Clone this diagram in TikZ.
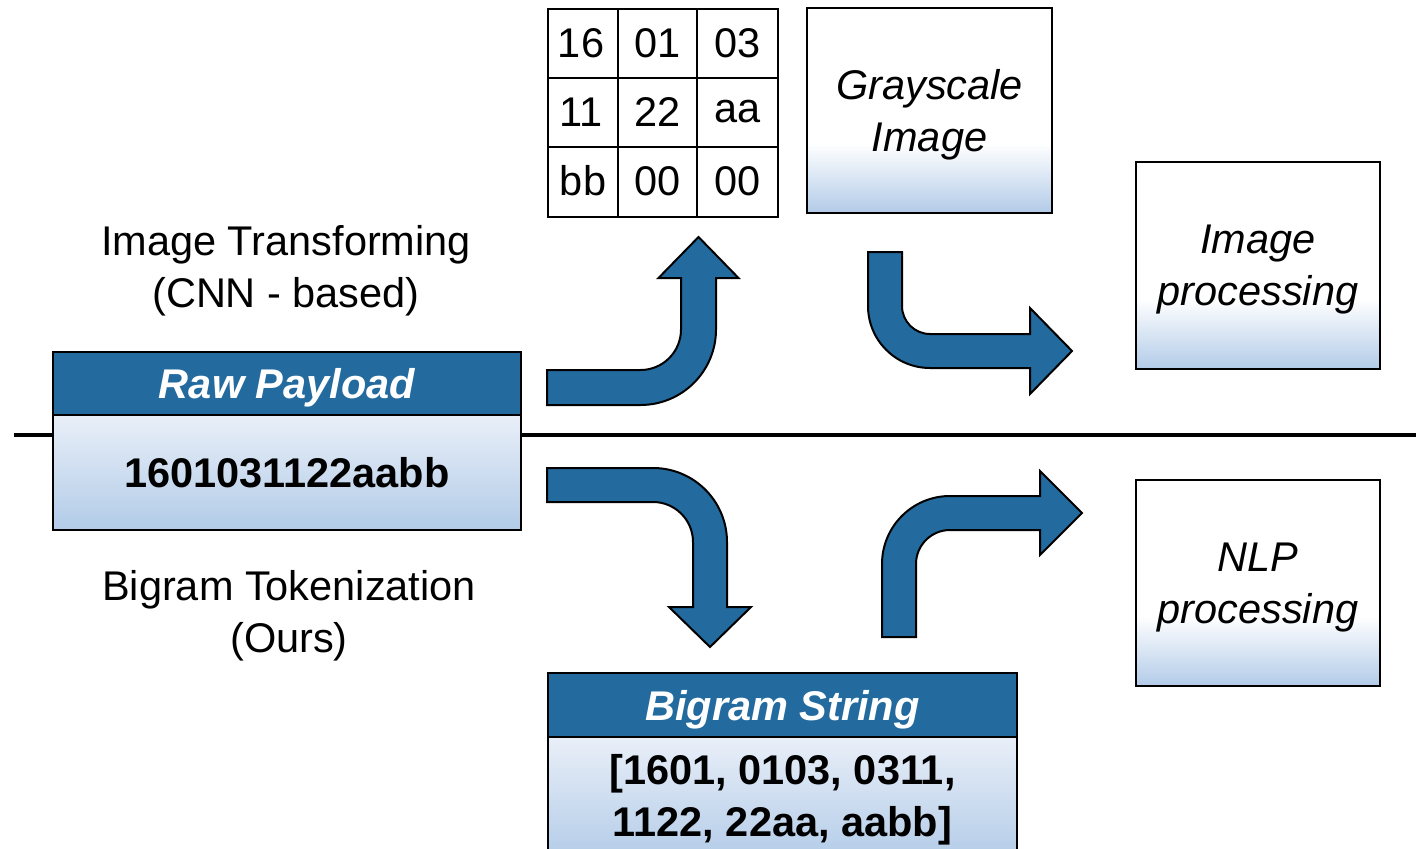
\documentclass[tikz,border=0pt]{standalone}
\usepackage{fontspec}
\setmainfont{Liberation Sans}

\definecolor{arrowblue}{HTML}{236B9F}
\definecolor{fadeblue}{HTML}{B2CBE8}
\definecolor{paleblue}{HTML}{E9EFF8}

% white box that fades to light blue over its lower third
\pgfdeclareverticalshading{lowfade}{100bp}{color(0bp)=(fadeblue); color(25bp)=(fadeblue); color(42bp)=(white); color(100bp)=(white)}

\tikzset{
  every node/.style={font=\fontsize{41.5}{52}\selectfont, inner sep=0pt},
  outline/.style={draw=black, line width=2.5pt},
  fadebox/.style={outline, rectangle, shade, shading=lowfade},
  boxtext/.style={align=center, font=\fontsize{41.5}{52}\selectfont\itshape},
  headbox/.style={outline, rectangle, fill=arrowblue, text=white, text height=36pt, text depth=6pt, font=\fontsize{41.5}{52}\selectfont\bfseries\itshape},
  bodybox/.style={outline, rectangle, top color=paleblue, bottom color=fadeblue},
  blockarrow/.style={fill=arrowblue, draw=black, line width=2pt, line join=miter},
  label/.style={align=center},
}

\begin{document}
\begin{tikzpicture}[x=1pt, y=-1pt]
\useasboundingbox (0,0) rectangle (1420,848);
\clip (0,0) rectangle (1420,848);

% dividing rule between the two pipelines
\draw[line width=4pt] (14,435) -- (1416,435);

% left: raw payload
\node[headbox, minimum width=468pt, minimum height=63pt] (rawhead) at (287,383.5) {Raw Payload};
\node[bodybox, minimum width=468pt, minimum height=115pt, font=\fontsize{41.5}{52}\selectfont\bfseries] (rawbody) at (287,472.5) {1601031122aabb};

\node[label] (cnnlabel) at (286,271) {Image Transforming\\(CNN - based)};
\node[label] (ourlabel) at (289,616) {Bigram Tokenization\\(Ours)};

% byte grid
\draw[outline] (548,9) rectangle (778,217);
\draw[outline] (618,9) -- (618,217) (697,9) -- (697,217) (548,78) -- (778,78) (548,147) -- (778,147);
\node (c11) at (581,43) {16};
\node (c12) at (657.5,43) {01};
\node (c13) at (737.5,43) {03};
\node (c21) at (581,112) {11};
\node (c22) at (657.5,112) {22};
\node (c23) at (737.5,112) {aa};
\node (c31) at (583,181) {bb};
\node (c32) at (657.5,181) {00};
\node (c33) at (737.5,181) {00};

% grayscale image and downstream processing
\node[fadebox, minimum width=245pt, minimum height=205pt] (gray) at (929.5,110.5) {};
\node[boxtext] (graytext) at ([yshift=-4pt]gray.center) {Grayscale\\Image};
\node[fadebox, minimum width=244pt, minimum height=207pt] (imgproc) at (1258,265.5) {};
\node[boxtext] (imgtext) at ([yshift=-4pt]imgproc.center) {Image\\processing};
\node[fadebox, minimum width=244pt, minimum height=206pt] (nlpproc) at (1258,583) {};
\node[boxtext] (nlptext) at ([yshift=-5pt]nlpproc.center) {NLP\\processing};

% bigram string
\node[headbox, minimum width=469pt, minimum height=64pt] (bighead) at (782.5,705) {Bigram String};
\node[bodybox, minimum width=469pt, minimum height=125pt] (bigbody) at (782.5,799.5) {};
\node[align=center, font=\fontsize{41.5}{52}\selectfont\bfseries] (bigtext) at (782.5,800) {[1601, 0103, 0311,\\1122, 22aa, aabb]};

% bent block arrows
\draw[blockarrow] (547,370) -- (640.5,370) arc[start angle=90, end angle=0, radius=40.5]
  -- (681,278) -- (658.5,278) -- (698.5,237) -- (738.5,278) -- (716,278) -- (716,329.5)
  arc[start angle=0, end angle=90, radius=75.5] -- (547,405) -- cycle;

\draw[blockarrow] (868,252) -- (902,252) -- (902,306) arc[start angle=180, end angle=90, radius=28]
  -- (1030,334) -- (1030,308) -- (1072,351) -- (1030,394) -- (1030,368) -- (930,368)
  arc[start angle=90, end angle=180, radius=62] -- cycle;

\draw[blockarrow] (547,468) -- (653,468) arc[start angle=270, end angle=360, radius=74]
  -- (727,607) -- (751,607) -- (710,647) -- (669,607) -- (693,607) -- (693,542)
  arc[start angle=360, end angle=270, radius=40] -- (547,502) -- cycle;

\draw[blockarrow] (882,637) -- (882,564) arc[start angle=180, end angle=270, radius=68]
  -- (1040,496) -- (1040,471) -- (1082,513) -- (1040,555) -- (1040,530) -- (950,530)
  arc[start angle=270, end angle=180, radius=34] -- (916,637) -- cycle;
\end{tikzpicture}
\end{document}
